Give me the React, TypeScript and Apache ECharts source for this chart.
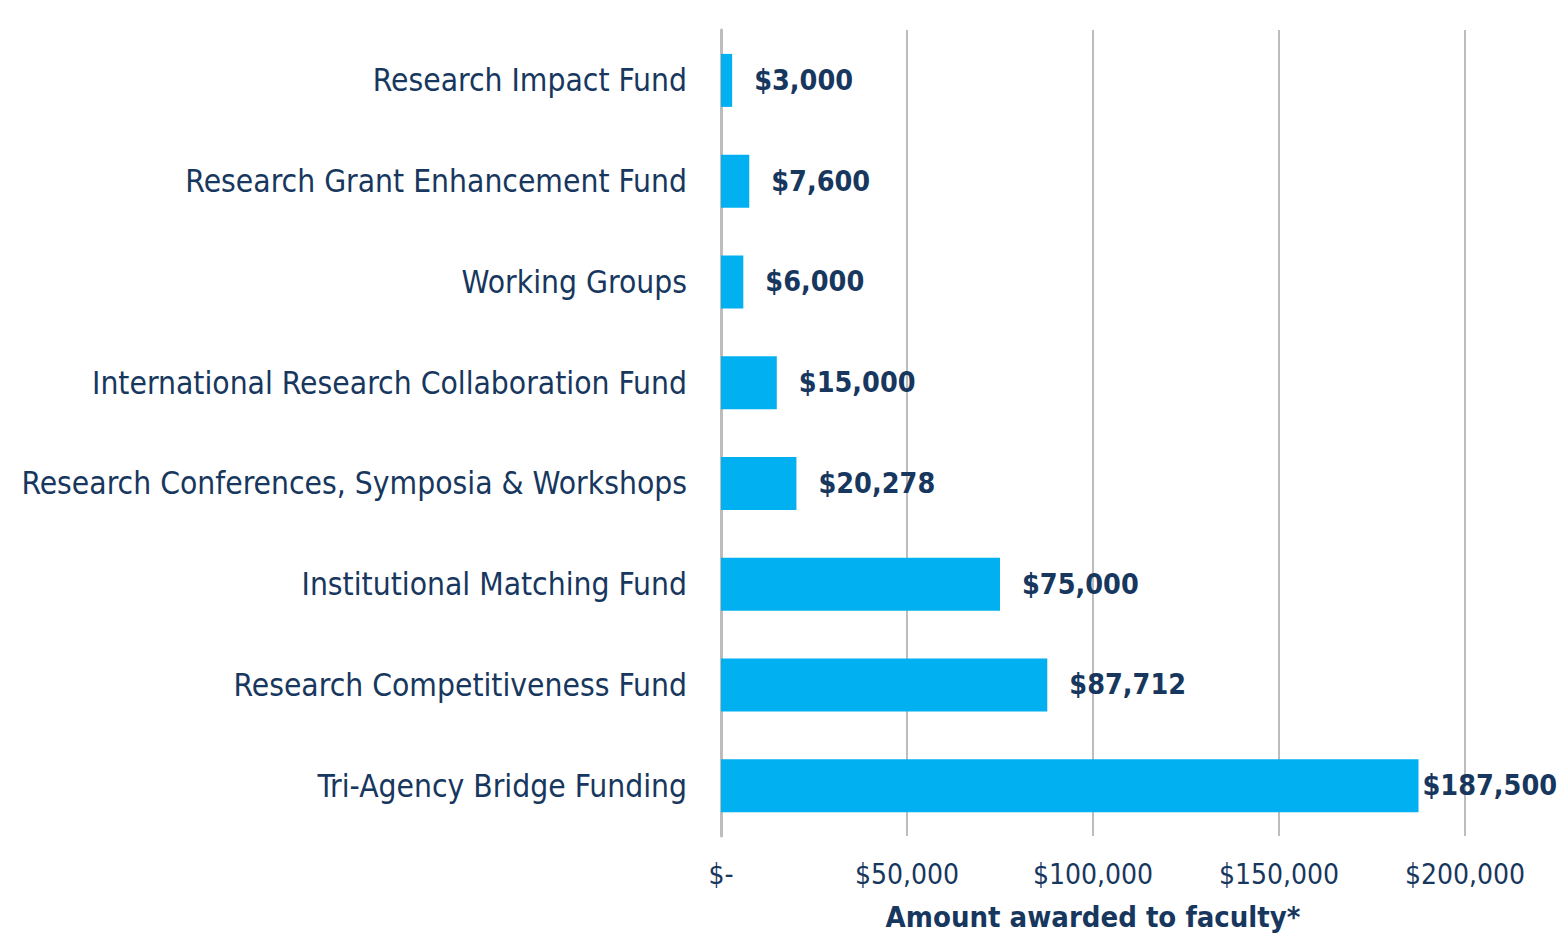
import React, { useEffect, useRef } from "react";
import * as echarts from "echarts";

const categories = [
  "Research Impact Fund",
  "Research Grant Enhancement Fund",
  "Working Groups",
  "International Research Collaboration Fund",
  "Research Conferences, Symposia & Workshops",
  "Institutional Matching Fund",
  "Research Competitiveness Fund",
  "Tri-Agency Bridge Funding",
];
const amounts = [3000, 7600, 6000, 15000, 20278, 75000, 87712, 187500];
const xTicks = [0, 50000, 100000, 150000, 200000];
const xTitle = "Amount awarded to faculty*";

const FONT = "'DejaVu Sans Condensed', 'Noto Sans', sans-serif";
const NAVY = "#17375E";

const fmt = (v: number) => (v === 0 ? "$-" : "$" + v.toLocaleString("en-US"));

export default function App() {
  const ref = useRef<HTMLDivElement>(null);
  useEffect(() => {
    if (!ref.current) return;
    const chart = echarts.init(ref.current, undefined, { renderer: "svg" });
    chart.setOption({
      animation: false,
      backgroundColor: "#ffffff",
      grid: { left: 721, right: 99, top: 30, bottom: 93, containLabel: false },
      xAxis: {
        type: "value",
        min: xTicks[0],
        max: xTicks[xTicks.length - 1],
        interval: 50000,
        axisLine: { show: false },
        axisTick: { show: false },
        splitLine: { show: true, lineStyle: { color: "#BDBDBD", width: 2 } },
        axisLabel: {
          formatter: (v: number) => fmt(v),
          color: NAVY,
          fontFamily: FONT,
          fontSize: 28,
          margin: 24,
        },
        name: xTitle,
        nameLocation: "middle",
        nameGap: 66,
        nameTextStyle: {
          color: NAVY,
          fontFamily: FONT,
          fontSize: 29,
          fontWeight: "bold",
        },
      },
      yAxis: {
        type: "category",
        data: categories,
        inverse: true,
        axisLine: { show: true, lineStyle: { color: "#BDBDBD", width: 3 } },
        axisTick: { show: false },
        splitLine: { show: false },
        axisLabel: {
          color: NAVY,
          fontFamily: FONT,
          fontSize: 31.5,
          margin: 34,
        },
      },
      series: [
        {
          type: "bar",
          data: amounts.map((v, i) =>
            i === amounts.length - 1
              ? { value: v, label: { distance: 4 } }
              : { value: v }
          ),
          barWidth: 53,
          itemStyle: { color: "#00B0F0" },
          label: {
            show: true,
            position: "right",
            distance: 22,
            formatter: (p: any) => fmt(p.value),
            color: NAVY,
            fontFamily: FONT,
            fontSize: 28.5,
            fontWeight: "bold",
          },
        },
      ],
    });
    return () => chart.dispose();
  }, []);
  return (
    <div
      ref={ref}
      style={{ position: "fixed", left: 0, top: 0, width: 1564, height: 936 }}
    />
  );
}
